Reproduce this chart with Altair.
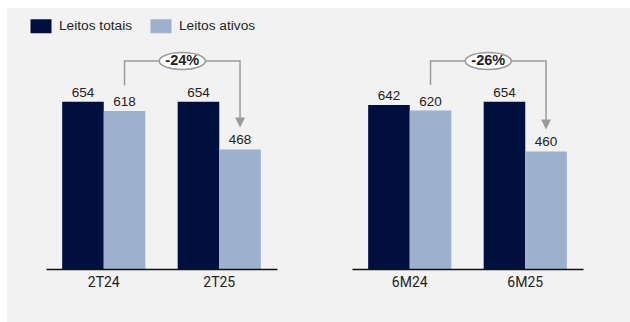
import altair as alt
import pandas as pd

# Hospital beds: total vs. active, quarter and half-year comparison
series = ["Leitos totais", "Leitos ativos"]

periods_q = ["2T24", "2T25"]
totais_q = [654, 654]
ativos_q = [618, 468]
change_q = "-24%"

periods_h = ["6M24", "6M25"]
totais_h = [642, 654]
ativos_h = [620, 460]
change_h = "-26%"

colors = ["#000f3d", "#9db0ce"]
BG = "#f2f2f2"
GREY = "#9a9a9a"
TEXT = "#222222"
FONT = "Liberation Sans"

W, H = 231, 230
Y_MAX = 900
PAD_INNER = 0.28
PAD_OUTER = PAD_INNER / 2

# bracket geometry, in value units
GAP_START = 100   # above the left bar where the bracket begins
BRACKET_TOP = 814
GAP_TIP = 95      # tip of the arrow above the right bar
HEAD = 20         # arrow head length

RECT_PATH = "M-1.4,-0.933H1.4V0.933H-1.4Z"
TRI_PATH = "M-1,-1L1,-1L0,1Z"
ELLIPSE_PATH = "M-1.28,0A1.28,0.47,0,1,0,1.28,0A1.28,0.47,0,1,0,-1.28,0Z"


def panel(periods, totais, ativos, change, with_legend):
    bars_df = pd.DataFrame({
        "periodo": periods * 2,
        "serie": [series[0]] * len(periods) + [series[1]] * len(periods),
        "valor": totais + ativos,
    })

    x = alt.X(
        "periodo:N", sort=periods,
        scale=alt.Scale(paddingInner=PAD_INNER, paddingOuter=PAD_OUTER),
        axis=alt.Axis(title=None, domainColor="#111111", domainWidth=1.5,
                      ticks=False, tickSize=0, labelPadding=6, labelAngle=0,
                      labelFont="Roboto", labelFontSize=14, labelColor=TEXT,
                      grid=False, zindex=1),
    )
    xo = alt.XOffset("serie:N", sort=series,
                     scale=alt.Scale(paddingInner=0, paddingOuter=0))
    y_scale = alt.Scale(domain=[0, Y_MAX], nice=False)
    y = alt.Y("valor:Q", scale=y_scale, axis=None)

    if with_legend:
        legend = alt.Legend(
            orient="none", legendX=-12.5, legendY=-20.5, direction="horizontal",
            title=None, symbolType=RECT_PATH, symbolSize=225, symbolStrokeWidth=0,
            symbolOpacity=1, labelOffset=10.5, columnPadding=18, padding=0,
            labelFont=FONT, labelFontSize=13.7, labelColor=TEXT, zindex=1,
        )
    else:
        legend = None
    color = alt.Color("serie:N", sort=series,
                      scale=alt.Scale(domain=series, range=colors), legend=legend)

    base = alt.Chart(bars_df)
    bars = base.mark_bar(opacity=1).encode(x=x, xOffset=xo, y=y, color=color)
    values = base.mark_text(dy=-5, baseline="alphabetic", font=FONT,
                            fontSize=13.5, color=TEXT).encode(
        x=x, xOffset=xo, y=y, text="valor:Q")
    group = alt.layer(bars, values)

    # bracket from the first to the second "ativos" bar
    off = (1 - PAD_INNER) / 4
    xa = 0 + 0.5 + off
    xb = 1 + 0.5 + off
    tip = ativos[1] + GAP_TIP
    path_df = pd.DataFrame({
        "ordem": [0, 1, 2, 3],
        "px": [xa, xa, xb, xb],
        "py": [ativos[0] + GAP_START, BRACKET_TOP, BRACKET_TOP, tip + HEAD - 2],
    })
    xq = alt.X("px:Q", scale=alt.Scale(domain=[0, len(periods)], nice=False,
                                       zero=False), axis=None)
    yq = alt.Y("py:Q", scale=y_scale, axis=None)
    bracket = alt.Chart(path_df).mark_line(color=GREY, strokeWidth=1.5).encode(
        x=xq, y=yq, order="ordem:Q")
    head_df = pd.DataFrame({"px": [xb], "py": [tip + HEAD / 2]})
    head = alt.Chart(head_df).mark_point(
        shape=TRI_PATH, size=100, filled=True, color=GREY, opacity=1
    ).encode(x=xq, y=yq)
    badge_df = pd.DataFrame({"px": [(xa + xb) / 2], "py": [BRACKET_TOP],
                             "txt": [change]})
    badge = alt.Chart(badge_df).mark_point(
        shape=ELLIPSE_PATH, size=1296, filled=True, fill="white",
        stroke=GREY, strokeWidth=1.5, opacity=1
    ).encode(x=xq, y=yq)
    badge_text = alt.Chart(badge_df).mark_text(
        font=FONT, fontSize=14.5, fontWeight="bold", color=TEXT,
        baseline="middle", dy=0.5
    ).encode(x=xq, y=yq, text="txt:N")
    notes = alt.layer(bracket, head, badge, badge_text)

    layers = [group, notes]
    if with_legend:
        # light grey panel behind the whole figure
        panel_bg = alt.Chart(pd.DataFrame({"k": [0]})).mark_rect(
            color=BG
        ).encode(x=alt.value(-39), x2=alt.value(584),
                 y=alt.value(-31), y2=alt.value(283))
        layers = [panel_bg] + layers

    return alt.layer(*layers).resolve_scale(x="independent").properties(
        width=W, height=H)


left = panel(periods_q, totais_q, ativos_q, change_q, True)
right = panel(periods_h, totais_h, ativos_h, change_h, False)

chart = alt.hconcat(left, right, spacing=75, bounds="flush").resolve_scale(
    color="independent"
).resolve_legend(color="independent").configure_view(
    stroke=None
).properties(
    padding={"left": 7, "top": 8, "right": 0, "bottom": 0},
    background="white",
)

chart.save("out.html", embed_options={"renderer": "svg", "actions": False})
